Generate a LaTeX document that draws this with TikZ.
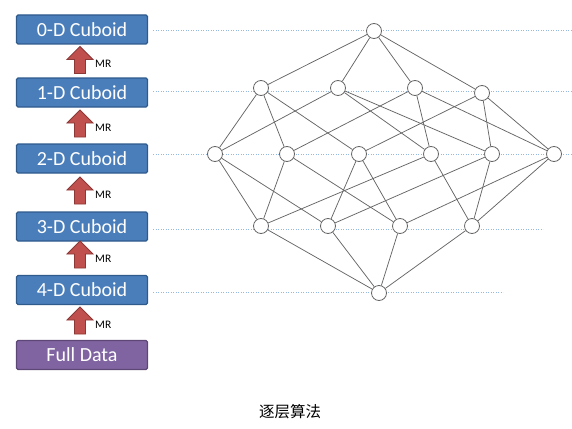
\documentclass[tikz,border=0pt]{standalone}
\usepackage{fontspec}
\setmainfont{Carlito}
\newfontfamily\cjk{Noto Sans CJK SC}
\definecolor{boxblue}{HTML}{4A7EBB}
\definecolor{boxblueb}{HTML}{2F5A8C}
\definecolor{boxpurple}{HTML}{8064A2}
\definecolor{boxpurpleb}{HTML}{5C4776}
\definecolor{arrred}{HTML}{C0504D}
\definecolor{arrredb}{HTML}{8C3836}
\definecolor{dotblue}{HTML}{95B8E0}
\definecolor{edgegray}{HTML}{666666}
\tikzset{
  cuboid/.style={draw=boxblueb, fill=boxblue, line width=1.2pt, rounded corners=1.5pt,
    minimum width=131pt, minimum height=29pt, inner sep=0pt, text=white,
    font=\fontsize{20}{20}\selectfont},
  fullbox/.style={cuboid, draw=boxpurpleb, fill=boxpurple},
  mrarrow/.style={draw=arrredb, fill=arrred, line width=0.8pt, line join=miter},
  mrlabel/.style={anchor=west, inner sep=0pt, font=\fontsize{11.5}{11.5}\selectfont},
  lat/.style={circle, draw=edgegray, fill=white, line width=0.8pt, minimum size=15pt, inner sep=0pt},
  ed/.style={draw=edgegray, line width=0.75pt},
  lvl/.style={draw=dotblue, line width=0.9pt, dash pattern=on 1.2pt off 1.3pt}
}
\begin{document}
\begin{tikzpicture}[x=1pt,y=-1pt]
\useasboundingbox (0,0) rectangle (572,428);
% level dotted lines
\coordinate (l0s) at (153,30);  \coordinate (l0e) at (572,30);
\coordinate (l1s) at (153,91);  \coordinate (l1e) at (572,91);
\coordinate (l2s) at (153,154); \coordinate (l2e) at (572,154);
\coordinate (l3s) at (153,229); \coordinate (l3e) at (543,229);
\coordinate (l4s) at (153,292); \coordinate (l4e) at (503,292);
\foreach \i in {0,...,4} { \draw[lvl] (l\i s) -- (l\i e); }
% boxes
\node[cuboid] (c0) at (82,29.5) {0-D Cuboid};
\node[cuboid] (c1) at (82,92.5) {1-D Cuboid};
\node[cuboid] (c2) at (82,158.5) {2-D Cuboid};
\node[cuboid] (c3) at (82,226.5) {3-D Cuboid};
\node[cuboid] (c4) at (82,290) {4-D Cuboid};
\node[fullbox] (fd) at (82,355) {Full Data};
% MR arrows
\foreach \n/\y in {a1/60, a2/123.5, a3/190.5, a4/254.5, a5/320.5} {
  \draw[mrarrow] (80,\y) ++(-5.5,13.5) -- ++(0,-14) -- ++(-7.5,0) -- ++(13,-13)
     -- ++(13,13) -- ++(-7.5,0) -- ++(0,14) -- cycle;
  \node[mrlabel] (m\n) at (95,\y+4) {MR};
}
% lattice nodes
\node[lat] (T) at (374,31) {};
\node[lat] (A1) at (261,88) {};
\node[lat] (A2) at (338,88) {};
\node[lat] (A3) at (415,88) {};
\node[lat] (A4) at (482,93) {};
\node[lat] (B1) at (215,154) {};
\node[lat] (B2) at (287,154) {};
\node[lat] (B3) at (359,154) {};
\node[lat] (B4) at (431,154) {};
\node[lat] (B5) at (492,154) {};
\node[lat] (B6) at (554,154) {};
\node[lat] (C1) at (261,226) {};
\node[lat] (C2) at (328,226) {};
\node[lat] (C3) at (400,226) {};
\node[lat] (C4) at (472,226) {};
\node[lat] (D) at (379,293) {};
% edges
\foreach \a/\b in {T/A1,T/A2,T/A3,T/A4,
  A1/B1,A1/B2,A1/B3, A2/B1,A2/B4,A2/B5, A3/B2,A3/B4,A3/B6, A4/B3,A4/B5,A4/B6,
  C1/B1,C1/B2,C1/B4, C2/B1,C2/B3,C2/B5, C3/B2,C3/B3,C3/B6, C4/B4,C4/B5,C4/B6,
  D/C1,D/C2,D/C3,D/C4}
  \draw[ed] (\a) -- (\b);
% caption
\node[font={\cjk\fontsize{15.5}{15.5}\selectfont}, inner sep=0pt] (cap) at (290,412) {逐层算法};
\end{tikzpicture}
\end{document}
